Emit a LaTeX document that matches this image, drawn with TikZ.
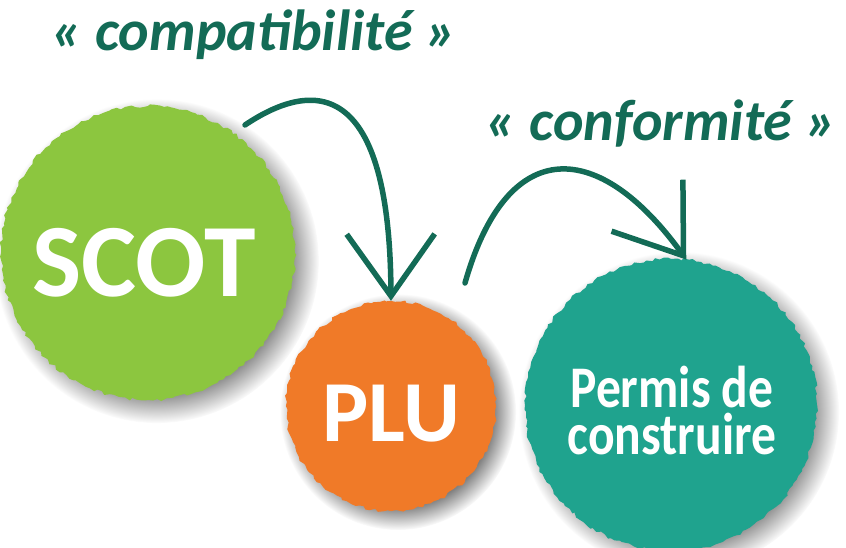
\documentclass[tikz,border=0pt]{standalone}
\usepackage{fontspec}
\setmainfont{Carlito}
\newfontfamily\condfont[FakeStretch=0.84]{Carlito}
\usetikzlibrary{arrows.meta,decorations.pathmorphing,fadings}
\definecolor{scotgreen}{HTML}{8CC63F}
\definecolor{pluorange}{HTML}{F07A28}
\definecolor{permisteal}{HTML}{1FA38E}
\definecolor{darkgreen}{HTML}{136B56}

\begin{document}
\begin{tikzpicture}[x=1pt,y=-1pt]

    \tikzset{
      blob/.style={
        circle,
        inner sep=0pt,
        decorate,
        decoration={random steps,segment length=4pt,amplitude=1.6pt},
      },
      blobshadow/.style={
        black!50,
        path fading=circle with fuzzy edge 20 percent,
      },
      blobtext/.style={
        anchor=base,
        text=white,
      },
      quote/.style={
        anchor=base,
        text=darkgreen,
        font=\bfseries\itshape\fontsize{58}{66}\selectfont,
      },
      hand/.style={
        draw=darkgreen,
        line width=5.5pt,
        line cap=round,
        -{Straight Barb[length=62pt,width=88pt]},
      },
    }
    \useasboundingbox (0,0) rectangle (846,547);
    \pgfmathsetseed{7}

    \fill[blobshadow] (157,261) circle (162);
    \fill[blobshadow] (398,412) circle (118);
    \fill[blobshadow] (679,412) circle (160);

    \node[blob, fill=scotgreen, minimum size=294pt] (scot) at (148,253) {};
    \node[blob, fill=pluorange, minimum size=210pt] (plu) at (391,406) {};
    \node[blob, fill=permisteal, minimum size=292pt] (permis) at (671,405) {};

    \node[blobtext, font=\bfseries\fontsize{104}{110}\selectfont] (scottext) at (144,296) {SCOT};
    \node[blobtext, font=\bfseries\fontsize{87}{95}\selectfont] (plutext) at (391,441) {PLU};
    \node[text=white, align=center, font=\condfont\bfseries\fontsize{59}{47}\selectfont] (permistext) at (672,411) {Permis de\\construire};

    \node[quote] (compat) at (254,50) {« compatibilité »};
    \node[quote] (conform) at (661,140) {« conformité »};

    \coordinate (compatstart) at (245,125);
    \coordinate (conformstart) at (465,283);
    \draw[hand] (compatstart) .. controls (315,78) and (390,80) .. (plu.north);
    \draw[hand] (conformstart) .. controls (508,132) and (600,140) .. (permis.84);

\end{tikzpicture}
\end{document}
